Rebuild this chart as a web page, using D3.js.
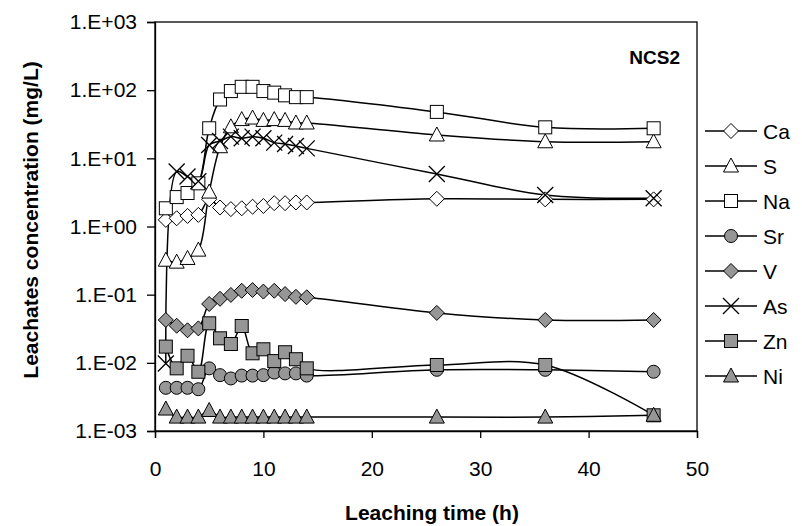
<!DOCTYPE html>
<html>
<head>
<meta charset="utf-8">
<script src="https://cdn.jsdelivr.net/npm/d3@7"></script>
<style>
  body { margin: 0; background: #fff; }
  svg { font-family: "Liberation Sans", Arial, sans-serif; }
</style>
</head>
<body>
<script>
// leaching times (h)
const hours = [1, 2, 3, 4, 5, 6, 7, 8, 9, 10, 11, 12, 13, 14, 26, 36, 46];

// concentrations (mg/L)
const ca = [1.25, 1.32, 1.43, 1.48, 2.5, 1.9, 1.8, 1.85, 1.95, 2.0, 2.2, 2.2, 2.25, 2.25, 2.55, 2.5, 2.5];
const s  = [0.32, 0.30, 0.34, 0.45, 3.2, 14.8, 29, 37, 39, 36, 37, 36, 33, 33, 22, 17.5, 17.5];
const na = [1.85, 2.7, 3.1, 4.3, 27.6, 73, 97, 112, 112, 97, 92, 84, 79, 79, 48, 28.5, 27.6];
const sr = [0.0043, 0.0043, 0.0043, 0.0041, 0.0083, 0.0066, 0.0059, 0.0065, 0.0065, 0.0066, 0.0072, 0.0070, 0.0070, 0.0065, 0.0079, 0.0079, 0.0074];
const v  = [0.0425, 0.035, 0.030, 0.032, 0.073, 0.087, 0.099, 0.114, 0.117, 0.111, 0.114, 0.102, 0.093, 0.0915, 0.054, 0.0425, 0.0425];
const as = [0.0098, 6.4, 5.4, 4.6, 15.7, 18, 20.8, 19.7, 20.8, 19.7, 17, 16.2, 15.2, 14, 5.9, 2.9, 2.6];
const zn = [0.0173, 0.0083, 0.0127, 0.0074, 0.038, 0.0229, 0.0189, 0.0347, 0.0138, 0.0158, 0.0106, 0.0143, 0.0113, 0.0083, 0.0093, 0.0093, 0.0017];
const ni = [0.0021, 0.0016, 0.0016, 0.0016, 0.0020, 0.0016, 0.0016, 0.0016, 0.0016, 0.0016, 0.0016, 0.0016, 0.0016, 0.0016, 0.0016, 0.0016, 0.0017];

const seriesNames = ['Ca', 'S', 'Na', 'Sr', 'V', 'As', 'Zn', 'Ni'];
const seriesValues = [ca, s, na, sr, v, as, zn, ni];
const seriesMarks = ['diamond', 'triangle', 'square', 'circle', 'diamond', 'cross', 'square', 'triangle'];
const seriesFills = ['#fff', '#fff', '#fff', '#969696', '#969696', 'none', '#969696', '#969696'];

const xTicks = [0, 10, 20, 30, 40, 50];
const yTicks = [1e-3, 1e-2, 1e-1, 1, 10, 100, 1000];
const yTickLabels = ['1.E-03', '1.E-02', '1.E-01', '1.E+00', '1.E+01', '1.E+02', '1.E+03'];

let width = 802, height = 526;
let margin = {left: 155, right: 105, top: 22, bottom: 95};

let svg = d3.select('body').append('svg')
  .attr('width', width)
  .attr('height', height);

let x = d3.scaleLinear().domain([0, 50]).range([margin.left, width - margin.right]);
let y = d3.scaleLog().domain([1e-3, 1e3]).range([height - margin.bottom, margin.top]);

// frame
svg.append('rect')
  .attr('x', x(0)).attr('y', y(1e3))
  .attr('width', x(50) - x(0)).attr('height', y(1e-3) - y(1e3))
  .attr('fill', 'none').attr('stroke', '#000').attr('stroke-width', 1.3);

let xAxis = svg.append('g')
  .attr('transform', 'translate(0,' + y(1e-3) + ')')
  .call(d3.axisBottom(x).tickValues(xTicks).tickSize(7).tickPadding(23));
let yAxis = svg.append('g')
  .attr('transform', 'translate(' + x(0) + ',0)')
  .call(d3.axisLeft(y).tickValues(yTicks).tickFormat((d, i) => yTickLabels[i]).tickSize(8).tickPadding(10));

[xAxis, yAxis].forEach(a => {
  a.select('.domain').attr('stroke', '#000').attr('stroke-width', 1.3);
  a.selectAll('.tick line').attr('stroke', '#000').attr('stroke-width', 1.3);
  a.selectAll('.tick text').attr('fill', '#000').style('font-size', '21px');
});

// titles
svg.append('text')
  .attr('x', 432).attr('y', 520)
  .attr('text-anchor', 'middle')
  .style('font-size', '21px').style('font-weight', 'bold')
  .text('Leaching time (h)');

svg.append('text')
  .attr('transform', 'translate(38,220) rotate(-90)')
  .attr('text-anchor', 'middle')
  .style('font-size', '21px').style('font-weight', 'bold')
  .text('Leachates concentration (mg/L)');

svg.append('text')
  .attr('x', 680).attr('y', 64)
  .attr('text-anchor', 'end')
  .style('font-size', '19px').style('font-weight', 'bold')
  .text('NCS2');

function marker(sel, type, fill) {
  if (type === 'circle') {
    sel.append('circle').attr('r', 6.5).attr('fill', fill).attr('stroke', '#000').attr('stroke-width', 1);
  } else if (type === 'square') {
    sel.append('rect').attr('x', -6.5).attr('y', -6.5).attr('width', 13).attr('height', 13)
      .attr('fill', fill).attr('stroke', '#000').attr('stroke-width', 1);
  } else if (type === 'diamond') {
    sel.append('path').attr('d', 'M0,-7.5L7.5,0L0,7.5L-7.5,0Z')
      .attr('fill', fill).attr('stroke', '#000').attr('stroke-width', 1);
  } else if (type === 'triangle') {
    sel.append('path').attr('d', 'M0,-8L7.5,6L-7.5,6Z')
      .attr('fill', fill).attr('stroke', '#000').attr('stroke-width', 1);
  } else if (type === 'cross') {
    sel.append('path').attr('d', 'M-8,-8L8,8M-8,8L8,-8')
      .attr('fill', 'none').attr('stroke', '#000').attr('stroke-width', 1.3);
  }
}

let line = d3.line()
  .x(d => x(d[0]))
  .y(d => y(d[1]))
  .curve(d3.curveCatmullRom.alpha(0.5));

seriesValues.forEach((vals, k) => {
  let pts = hours.map((h, i) => [h, vals[i]]);
  svg.append('path')
    .attr('d', line(pts))
    .attr('fill', 'none')
    .attr('stroke', '#000')
    .attr('stroke-width', 1.5);
});

seriesValues.forEach((vals, k) => {
  hours.forEach((h, i) => {
    let g = svg.append('g').attr('transform', 'translate(' + x(h) + ',' + y(vals[i]) + ')');
    marker(g, seriesMarks[k], seriesFills[k]);
  });
});

// legend
let legend = svg.append('g')
  .selectAll('g')
  .data(seriesNames)
  .enter().append('g')
  .attr('transform', (d, i) => 'translate(731,' + (131 + i * 35) + ')');

legend.append('line')
  .attr('x1', -26).attr('x2', 26)
  .attr('stroke', '#000').attr('stroke-width', 1.5);

legend.each(function(d, i) {
  marker(d3.select(this), seriesMarks[i], seriesFills[i]);
});

legend.append('text')
  .attr('x', 32)
  .attr('dy', '0.36em')
  .style('font-size', '21px')
  .text(d => d);
</script>
</body>
</html>
